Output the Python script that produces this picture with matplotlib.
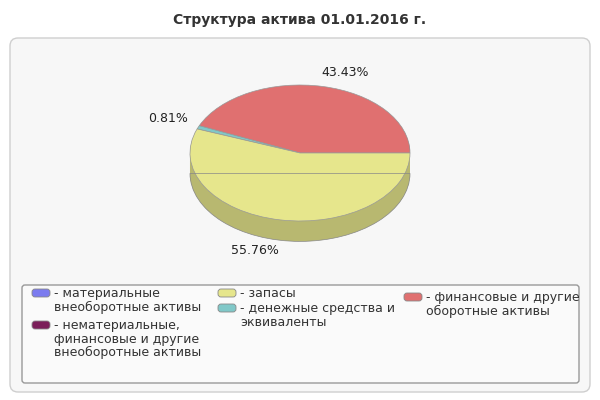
import matplotlib
matplotlib.use("Agg")
import matplotlib.pyplot as plt
from matplotlib.patches import Wedge, FancyBboxPatch
import numpy as np

title = "Структура актива 01.01.2016 г."
labels = ["- материальные\nвнеоборотные активы",
          "- нематериальные,\nфинансовые и другие\nвнеоборотные активы",
          "- запасы",
          "- денежные средства и\nэквиваленты",
          "- финансовые и другие\nоборотные активы"]
values = [0.0, 0.0, 55.76, 0.81, 43.43]
colors = ["#7b7bef", "#7b1f5a", "#e6e68c", "#80c8c8", "#e07070"]
sides = ["#5a5ab0", "#5a1640", "#b8b870", "#5f9898", "#b05858"]

fig = plt.figure(figsize=(6, 4), dpi=100)
fig.patch.set_facecolor("white")
def px(x, y, w, h):  # pixels from top-left -> fig coords
    return (x / 600, 1 - (y + h) / 400, w / 600, h / 400)

bg = fig.add_axes([0, 0, 1, 1]); bg.set_xlim(0, 600); bg.set_ylim(400, 0); bg.axis("off")
bg.add_patch(FancyBboxPatch((10, 38), 580, 354, boxstyle="round,pad=0,rounding_size=8",
                            fc="#f7f7f7", ec="#cfcfcf", lw=1))
bg.add_patch(FancyBboxPatch((22, 285), 557, 98, boxstyle="round,pad=0,rounding_size=3",
                            fc="#fafafa", ec="#999999", lw=1))
bg.text(300, 20, title, ha="center", va="center", fontsize=10, fontweight="bold", color="#333333")

# pie
ax = fig.add_axes(px(135, 85 - 0, 330, 272))
cx_px, cy_px, rx, ry = 300, 153, 110, 68
ax.set_position([(cx_px - 1.5 * rx) / 600, 1 - (cy_px + 2.5 * ry) / 400, 3 * rx / 600, 4 * ry / 400])
ax.set_xlim(-1.5, 1.5); ax.set_ylim(-2.5, 1.5); ax.axis("off")
order = [4, 3, 2, 0, 1]
total = sum(values)
depth = 0.3
for off in np.linspace(-depth, 0, 31):
    start = 0.0
    for i in order:
        ang = values[i] / total * 360
        if ang > 0:
            top = off == 0
            ax.add_patch(Wedge((0, off), 1, start, start + ang,
                               fc=colors[i] if top else sides[i],
                               ec="#999999" if top else "none", lw=0.5))
        start += ang
ax.add_patch(Wedge((0, -depth), 1, 180, 360, fc="none", ec="#888888", lw=0.5))

bg.text(345, 72, "43.43%", ha="center", va="center", fontsize=9, color="#222222")
bg.text(168, 119, "0.81%", ha="center", va="center", fontsize=9, color="#222222")
bg.text(255, 250, "55.76%", ha="center", va="center", fontsize=9, color="#222222")

# legend
pos = [(32, 293), (32, 325), (218, 293), (218, 308), (404, 297)]
for (x, y), lab, c in zip(pos, labels, colors):
    bg.add_patch(FancyBboxPatch((x, y - 4), 18, 8, boxstyle="round,pad=0,rounding_size=3",
                                fc=c, ec="#888888", lw=0.6))
    bg.text(x + 22, y - 6, lab, ha="left", va="top", fontsize=9, color="#333333", linespacing=1.05)

fig.savefig("out.png", dpi=100)
